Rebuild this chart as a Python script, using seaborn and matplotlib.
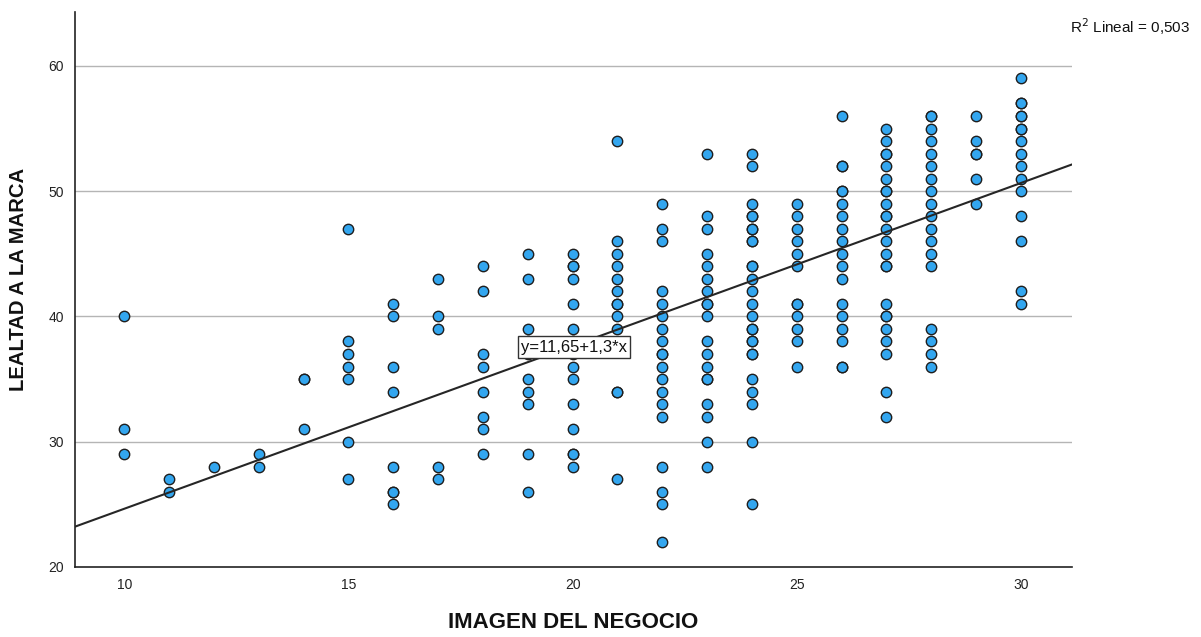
import matplotlib
matplotlib.use("Agg")
import matplotlib.pyplot as plt
import seaborn as sns
import pandas as pd

# ---- data ----
x10 = [40, 31, 29]
x11 = [27, 26]
x12 = [28]
x13 = [29, 28]
x14 = [35, 35, 31]
x15 = [47, 38, 37, 36, 35, 30, 27]
x16 = [41, 40, 36, 34, 28, 26, 26, 25]
x17 = [43, 40, 39, 28, 27]
x18 = [44, 42, 37, 36, 34, 32, 31, 29]
x19 = [45, 43, 39, 38, 37, 35, 34, 33, 29, 26]
x20 = [45, 44, 44, 43, 41, 39, 38, 37, 36, 35, 33, 31, 29, 29, 28]
x21 = [54, 46, 45, 44, 43, 42, 41, 41, 40, 39, 34, 34, 27]
x22 = [49, 47, 46, 42, 41, 40, 39, 38, 37, 37, 36, 35, 34, 33, 32, 28, 26, 25, 22]
x23 = [53, 48, 47, 45, 44, 43, 42, 41, 41, 40, 38, 37, 36, 35, 35, 33, 32, 30, 28]
x24 = [53, 52, 49, 48, 48, 47, 47, 46, 46, 44, 44, 43, 42, 41, 40, 39, 39, 38, 38,
       37, 37, 35, 34, 33, 30, 25]
x25 = [49, 48, 47, 46, 45, 44, 41, 41, 40, 39, 38, 36]
x26 = [56, 52, 52, 50, 50, 49, 48, 47, 46, 45, 44, 43, 41, 40, 39, 38, 36, 36]
x27 = [55, 54, 53, 53, 52, 51, 50, 50, 49, 48, 48, 47, 46, 45, 44, 44, 41, 40, 40,
       39, 38, 37, 34, 32]
x28 = [56, 56, 55, 54, 53, 52, 51, 50, 49, 48, 47, 46, 45, 44, 39, 38, 37, 36]
x29 = [56, 54, 53, 53, 51, 49]
x30 = [59, 57, 57, 56, 56, 55, 55, 54, 53, 52, 51, 50, 48, 46, 42, 41]

imagen_values = list(range(10, 31))
lealtad_by_imagen = [x10, x11, x12, x13, x14, x15, x16, x17, x18, x19, x20,
                     x21, x22, x23, x24, x25, x26, x27, x28, x29, x30]

fit_intercept = 11.65
fit_slope = 1.3
r2_text = "R$^2$ Lineal = 0,503"
eq_text = "y=11,65+1,3*x"

x_ticks = [10, 15, 20, 25, 30]
y_ticks = [20, 30, 40, 50, 60]

rows = []
for xv, ys in zip(imagen_values, lealtad_by_imagen):
    for yv in ys:
        rows.append((xv, yv))
df = pd.DataFrame(rows, columns=["IMAGEN DEL NEGOCIO", "LEALTAD A LA MARCA"])

# ---- plot ----
sns.set_theme(style="white")
plt.rcParams["font.family"] = ["Liberation Sans", "DejaVu Sans"]

fig = plt.figure(figsize=(12.01, 6.37), dpi=100)
ax = fig.add_axes([75 / 1201, 1 - 567 / 637, (1072 - 75) / 1201, (567 - 12) / 637])

xmin, xmax = 8.9, 31.14
ymin, ymax = 20, 64.3
ax.set_xlim(xmin, xmax)
ax.set_ylim(ymin, ymax)

for yv in y_ticks[1:]:
    ax.axhline(yv, color="#b5b5b5", lw=1.0, zorder=0)

sns.scatterplot(data=df, x="IMAGEN DEL NEGOCIO", y="LEALTAD A LA MARCA", ax=ax,
                color="#33a6ef", edgecolor="#1e1e1e", linewidth=1.0, s=56,
                zorder=3, legend=False)

line_x = [xmin, xmax]
line_y = [fit_intercept + fit_slope * v for v in line_x]
sns.lineplot(x=line_x, y=line_y, ax=ax, color="#262626", lw=1.5, zorder=4)

ax.text(20.03, 37.55, eq_text, ha="center", va="center", fontsize=12,
        color="#111111", zorder=6,
        bbox=dict(boxstyle="square,pad=0.2", facecolor="white",
                  edgecolor="#333333", linewidth=1.0))

fig.text(1190 / 1201, 1 - 27 / 637, r2_text, ha="right", va="center",
         fontsize=11, color="#111111")

ax.set_xticks(x_ticks)
ax.set_yticks(y_ticks)
ax.tick_params(axis="both", length=0, labelsize=10, colors="#222222", pad=8)
for s in ["top", "right"]:
    ax.spines[s].set_visible(False)
for s in ["left", "bottom"]:
    ax.spines[s].set_color("#222222")
    ax.spines[s].set_linewidth(1.2)

ax.set_xlabel("IMAGEN DEL NEGOCIO", fontsize=16, fontweight="bold",
              color="#111111", labelpad=14)
ax.set_ylabel("LEALTAD A LA MARCA", fontsize=14.6, fontweight="bold",
              color="#111111")
ax.yaxis.set_label_coords(-47 / 997, 0.519)

fig.savefig("out.png", dpi=100)
